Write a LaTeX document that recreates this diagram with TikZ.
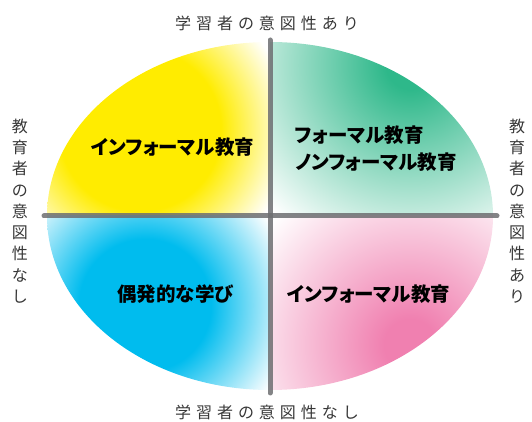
\documentclass[tikz,border=0pt]{standalone}
\usepackage{fontspec}
\usepackage{xcolor}
\setmainfont{Noto Sans CJK JP}
\newfontfamily\jplabel{Noto Sans CJK JP Black}[RawFeature=+palt]

\definecolor{cYellow}{RGB}{255,236,0}
\definecolor{cGreen}{RGB}{46,184,138}
\definecolor{cCyan}{RGB}{0,188,238}
\definecolor{cPink}{RGB}{240,128,176}
\definecolor{axisgray}{RGB}{109,110,113}
\definecolor{edgetext}{RGB}{55,55,55}

% 25bp is the rim of the shaded circle
\pgfdeclareradialshading{blobyellow}{\pgfpointorigin}{color(0bp)=(cYellow); color(13.5bp)=(cYellow); color(25bp)=(white); color(50bp)=(white)}
\pgfdeclareradialshading{blobgreen}{\pgfpointorigin}{color(0bp)=(cGreen); color(3bp)=(cGreen); color(25bp)=(white); color(50bp)=(white)}
\pgfdeclareradialshading{blobcyan}{\pgfpointorigin}{color(0bp)=(cCyan); color(11bp)=(cCyan); color(25bp)=(white); color(50bp)=(white)}
\pgfdeclareradialshading{blobpink}{\pgfpointorigin}{color(0bp)=(cPink); color(3.5bp)=(cPink); color(25bp)=(white); color(50bp)=(white)}

\begin{document}
\begin{tikzpicture}[x=1pt,y=1pt,
  axis/.style={draw=axisgray,line width=5pt,line cap=round,draw opacity=0.85},
  quadlabel/.style={font=\jplabel\fontsize{19.5}{27}\selectfont,text=black,inner sep=0pt},
  edgelabel/.style={font=\fontsize{16}{21.3}\selectfont,text=edgetext,inner sep=0pt},
  spaced/.style={font=\fontsize{16}{21.3}\selectfont\addfontfeature{LetterSpace=31}}
  ]
\useasboundingbox (0,0) rectangle (532,422);
\coordinate (O) at (270,206);

% colour field, one blob per quadrant
\begin{scope}
  \clip (O) ellipse [x radius=223, y radius=174];
  \fill[white] (47,32) rectangle (493,380);
  \begin{scope}
    \clip (0,206) rectangle (270,422);
    \shade[shading=blobyellow] (140,292) circle [radius=150];
  \end{scope}
  \begin{scope}
    \clip (270,206) rectangle (532,422);
    \shade[shading=blobgreen] (410,357) circle [radius=200];
  \end{scope}
  \begin{scope}
    \clip (0,0) rectangle (270,206);
    \shade[shading=blobcyan] (145,117) circle [radius=150];
  \end{scope}
  \begin{scope}
    \clip (270,0) rectangle (532,206);
    \shade[shading=blobpink] (410,77) circle [radius=185];
  \end{scope}
\end{scope}

% axes
\coordinate (top) at (270,382);
\coordinate (bottom) at (270,29);
\coordinate (left) at (44,206);
\coordinate (right) at (497,206);
\draw[axis] (left) -- (right);
\draw[axis] (top) -- (bottom);

% axis labels
\node[edgelabel,spaced] (learnyes) at (267,399) {学習者の意図性あり};
\node[edgelabel,spaced] (learnno) at (267,10) {学習者の意図性なし};
\node[edgelabel,align=center] (teachno) at (20,211) {教\\育\\者\\の\\意\\図\\性\\な\\し};
\node[edgelabel,align=center] (teachyes) at (517,211) {教\\育\\者\\の\\意\\図\\性\\あ\\り};

% quadrant labels
\node[quadlabel] (informalA) at (172.5,275) {インフォーマル教育};
\node[quadlabel,align=left,anchor=west] (formal) at (295,273.5) {フォーマル教育\\ノンフォーマル教育};
\node[quadlabel] (incidental) at (175.5,128) {偶発的な学び};
\node[quadlabel] (informalB) at (368.5,128) {インフォーマル教育};
\end{tikzpicture}
\end{document}
